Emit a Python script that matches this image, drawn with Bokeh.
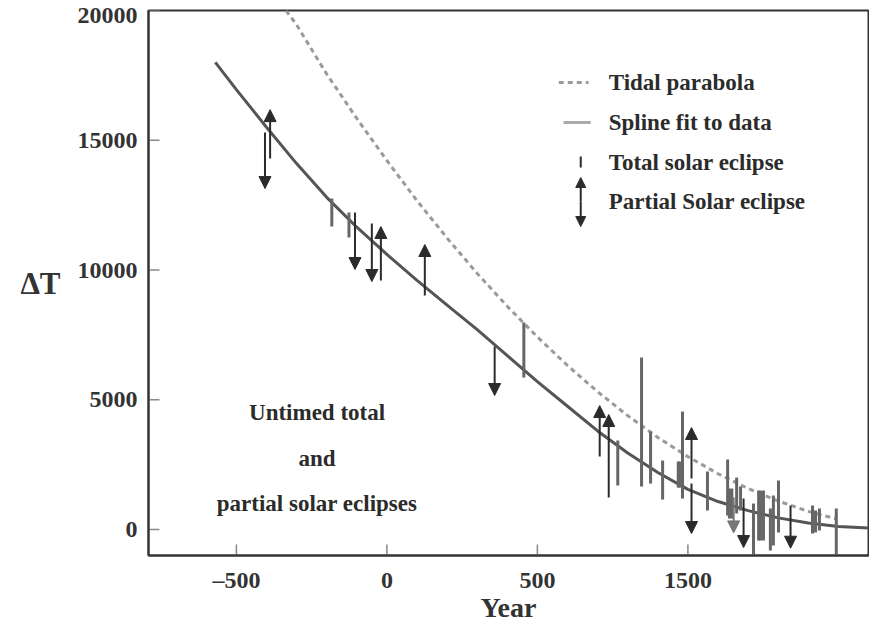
import math
from bokeh.plotting import figure
from bokeh.models import ColumnDataSource, Arrow, NormalHead, Label, FixedTicker, Range1d
from bokeh.embed import file_html
from bokeh.resources import INLINE

# ---- data ----
spline_year = [-570, -500, -400, -300, -200, -100, 0, 100, 200, 300, 400, 500, 600, 700, 800, 900, 1000, 1100, 1200, 1300, 1400, 1500, 1600]
spline_dt = [18000, 16950, 15500, 14100, 12800, 11650, 10600, 9600, 8650, 7700, 6700, 5700, 4750, 3800, 2950, 2200, 1550, 1080, 730, 450, 250, 120, 60]

tidal_year = [-335, -300, -200, -100, 0, 100, 200, 300, 400, 500, 600, 700, 800, 900, 1000, 1100, 1200, 1300, 1400, 1490]
tidal_dt = [20000, 19450, 17550, 15840, 14220, 12670, 11230, 9870, 8600, 7420, 6320, 5310, 4390, 3550, 2810, 2150, 1580, 1100, 700, 420]

total_year = [-183, -126, 455, 767, 846, 876, 916, 968, 972, 982, 1065, 1132, 1138, 1146, 1162, 1175, 1218, 1235, 1241, 1251, 1274, 1284, 1301, 1414, 1424, 1437, 1493]
total_hi = [12755, 12216, 7977, 3430, 6628, 3777, 2659, 2620, 2620, 4547, 2235, 2700, 1580, 1580, 2004, 1657, 1002, 1503, 1503, 1503, 809, 1310, 1888, 925, 732, 809, 809]
total_lo = [11676, 11252, 5857, 1696, 1657, 1773, 1156, 1618, 1618, 1195, 732, 540, 424, 424, 617, 732, -960, -424, -424, -424, -810, -617, -116, -154, -116, -38, -960]

up_year = [-388, -20, 126, 707, 737, 1012]
up_from = [14300, 9595, 9017, 2813, 1233, 1965]
up_to = [16180, 11676, 10983, 4778, 4432, 3931]

down_year = [-405, -106, -50, 358, 1012, 1185, 1341]
down_from = [15300, 12216, 11792, 7050, 1773, 1195, 925]
down_to = [13140, 10019, 9557, 5164, -154, -694, -720]

grey_down_year = [1152]
grey_down_from = [1233]
grey_down_to = [-130]

x_ticks = [-500, 0, 500, 1000]
x_tick_labels = {-500: "\u2013500", 0: "0", 500: "500", 1000: "1500"}
y_ticks = [0, 5000, 10000, 15000, 20000]
y_label_pos = [0, 5000, 10000, 15000, 19800]
y_tick_labels = {19800: "20000"}

FONT = "Liberation Serif"
DARK = "#2b2b2b"
BAR = "#666666"
X0, X1, Y0, Y1 = -792, 1600, -1000, 20000

p = figure(frame_width=720, frame_height=545, x_range=Range1d(X0, X1), y_range=Range1d(Y0, Y1),
           output_backend="svg", toolbar_location=None,
           min_border_left=148, min_border_right=1, min_border_top=10, min_border_bottom=0)
p.xgrid.visible = False
p.ygrid.visible = False
p.outline_line_color = "#333333"
p.outline_line_width = 2
p.background_fill_color = "white"
p.border_fill_color = "white"

for ax in (p.xaxis[0], p.yaxis[0]):
    ax.axis_line_color = "#333333"
    ax.axis_line_width = 2
    ax.major_tick_line_color = None
    ax.minor_tick_line_color = None
    ax.major_label_text_font = FONT
    ax.major_label_text_font_style = "bold"
    ax.major_label_text_font_size = "24px"
    ax.major_label_text_color = "#333333"

p.xaxis.ticker = FixedTicker(ticks=x_ticks)
p.xaxis.major_label_overrides = x_tick_labels
p.xaxis.major_label_standoff = 5
p.xaxis.axis_label = "Year"
p.xaxis.axis_label_text_font = FONT
p.xaxis.axis_label_text_font_style = "bold"
p.xaxis.axis_label_text_font_size = "28px"
p.xaxis.axis_label_text_color = "#333333"
p.xaxis.axis_label_standoff = -4

p.yaxis.ticker = FixedTicker(ticks=y_label_pos)
p.yaxis.major_label_overrides = y_tick_labels
p.yaxis.major_label_standoff = 5
p.yaxis.axis_label = "\u0394T"
p.yaxis.axis_label_orientation = "horizontal"
p.yaxis.axis_label_text_font = FONT
p.yaxis.axis_label_text_font_style = "bold"
p.yaxis.axis_label_text_font_size = "31px"
p.yaxis.axis_label_text_color = "#333333"
p.yaxis.axis_label_standoff = 14

# inward tick marks
p.ray(x=[X0] * len(y_ticks), y=y_ticks, length=11, length_units="screen", angle=0,
      line_color="#888888", line_width=1.5)
p.ray(x=x_ticks, y=[Y0] * len(x_ticks), length=11, length_units="screen", angle=math.pi / 2,
      line_color="#888888", line_width=1.5)

# curves
p.line(tidal_year, tidal_dt, line_color="#9a9a9a", line_width=3, line_dash="5 4")
p.line(spline_year, spline_dt, line_color="#555555", line_width=3)

# total eclipse bars
p.segment(x0=total_year, y0=total_lo, x1=total_year, y1=total_hi, line_color=BAR, line_width=3)

# partial eclipse arrows
def add_arrows(xs, y0s, y1s, color):
    src = ColumnDataSource(dict(x=xs, y0=y0s, y1=y1s))
    p.add_layout(Arrow(end=NormalHead(size=12, fill_color=color, line_color=color),
                       x_start="x", y_start="y0", x_end="x", y_end="y1",
                       line_color=color, line_width=2, source=src))

add_arrows(up_year, up_from, up_to, DARK)
add_arrows(down_year, down_from, down_to, DARK)
add_arrows(grey_down_year, grey_down_from, grey_down_to, "#777777")

# legend (drawn manually)
p.line([571, 670], [17225, 17225], line_color="#9a9a9a", line_width=3, line_dash="5 4")
p.line([587, 677], [15684, 15684], line_color="#aaaaaa", line_width=3)
p.segment(x0=[644], y0=[13950], x1=[644], y1=[14374], line_color=DARK, line_width=2)
p.add_layout(Arrow(end=NormalHead(size=10, fill_color=DARK, line_color=DARK), x_start=644, y_start=12640,
                   x_end=644, y_end=13565, line_color=DARK, line_width=2))
p.add_layout(Arrow(end=NormalHead(size=10, fill_color=DARK, line_color=DARK), x_start=644, y_start=12640,
                   x_end=644, y_end=11676, line_color=DARK, line_width=2))
leg_texts = ["Tidal parabola", "Spline fit to data", "Total solar eclipse", "Partial Solar eclipse"]
leg_y = [17225, 15684, 14143, 12640]
for t, yy in zip(leg_texts, leg_y):
    p.add_layout(Label(x=737, y=yy, text=t, text_font=FONT, text_font_style="bold",
                       text_font_size="23px", text_color="#2b2b2b", text_baseline="middle"))

# annotation
for t, yy in zip(["Untimed total", "and", "partial solar eclipses"], [4509, 2736, 1002]):
    p.add_layout(Label(x=-232, y=yy, text=t, text_font=FONT, text_font_style="bold",
                       text_font_size="23px", text_color="#2b2b2b", text_align="center",
                       text_baseline="middle"))

open("out.html", "w").write(file_html(p, INLINE))
